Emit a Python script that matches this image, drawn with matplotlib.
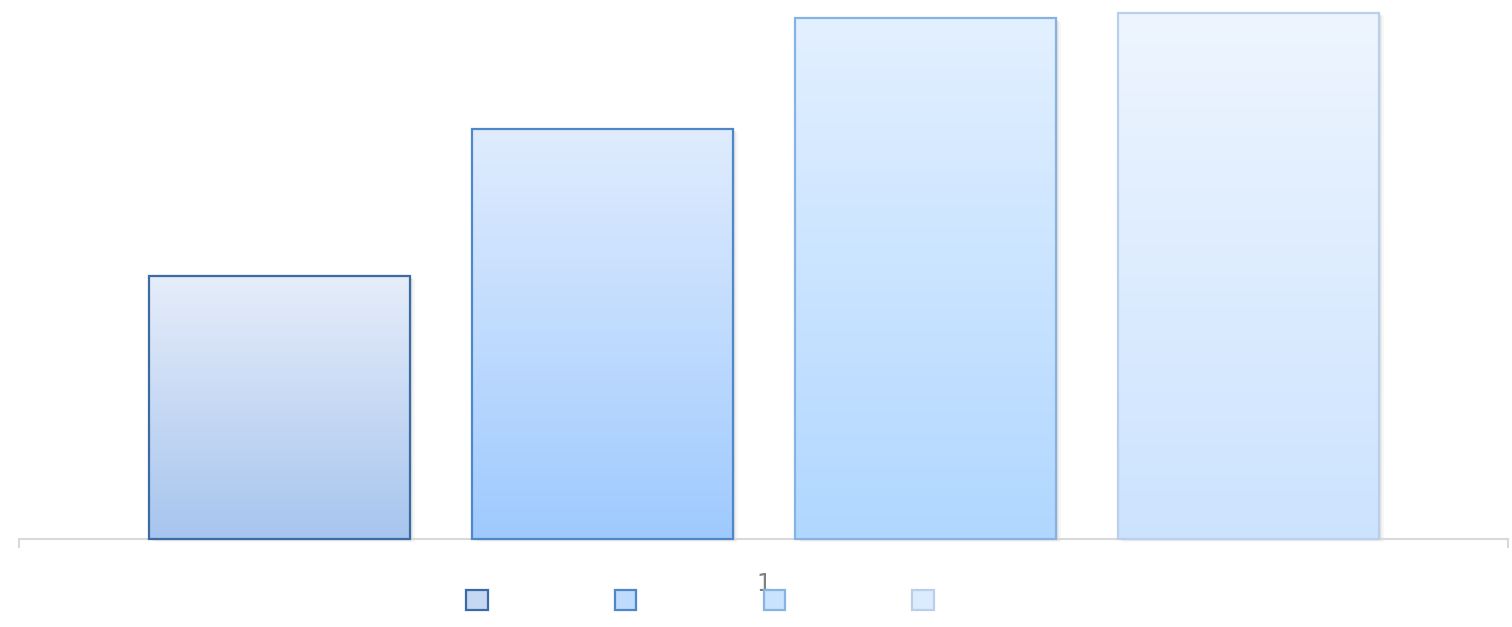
import numpy as np
import matplotlib
matplotlib.use("Agg")
import matplotlib.pyplot as plt
from matplotlib.patches import Rectangle, Patch
from matplotlib.colors import LinearSegmentedColormap
import matplotlib.transforms as mtransforms

categories = ["1"]
series_names = ["", "", "", ""]
values = [50, 78, 99, 100]

top_colors = ["#e6edfa", "#e0ecfd", "#e3f0ff", "#eef5ff"]
bottom_colors = ["#a7c5ee", "#9fcaff", "#b0d7ff", "#cce3fe"]
edge_colors = ["#3a6ba3", "#4f88c8", "#86b3e2", "#b9cfea"]

W, H, DPI = 1512, 627, 100
fig = plt.figure(figsize=(W / DPI, H / DPI), dpi=DPI)
ax_left = 19 / W
ax_right = 1508 / W
ax_bottom = (H - 539) / H
ax = fig.add_axes([ax_left, ax_bottom, ax_right - ax_left, 1 - ax_bottom])

bar_width = 261 / 1489
step = 323 / 1489
n = len(values)
offsets = (np.arange(n) - (n - 1) / 2) * step
ymax = values[-1] * 539 / 526
ax.set_xlim(-0.5, 0.5)
ax.set_ylim(0, ymax)

for i, v in enumerate(values):
    x0 = 0 + offsets[i] - bar_width / 2
    # soft shadow
    for k, a in [(5, 0.06), (3.5, 0.08), (2, 0.10)]:
        tr = mtransforms.offset_copy(ax.transData, fig=fig, x=k * 0.72, y=-k * 0.5, units="points")
        sh = Rectangle((x0, 0), bar_width, v, transform=tr, facecolor="#808080",
                       edgecolor="none", alpha=a, zorder=1, clip_on=False)
        ax.add_patch(sh)
    cmap = LinearSegmentedColormap.from_list(f"g{i}", [bottom_colors[i], top_colors[i]])
    grad = np.linspace(0, 1, 256).reshape(-1, 1)
    im = ax.imshow(grad, cmap=cmap, aspect="auto", origin="lower",
                   extent=(x0, x0 + bar_width, 0, v), zorder=2)
    rect = Rectangle((x0, 0), bar_width, v, facecolor="none", edgecolor=edge_colors[i],
                     linewidth=1.6, zorder=3, clip_on=False)
    ax.add_patch(rect)
    clip = Rectangle((x0, 0), bar_width, v, transform=ax.transData, facecolor="none", edgecolor="none")
    ax.add_patch(clip)
    im.set_clip_path(clip)

ax.set_xlim(-0.5, 0.5)
ax.set_ylim(0, ymax)

for s in ["top", "right", "left"]:
    ax.spines[s].set_visible(False)
ax.spines["bottom"].set_color("#d9d9d9")
ax.spines["bottom"].set_linewidth(1.5)
ax.set_yticks([])
ax.set_xticks([0])
ax.set_xticklabels(categories, color="#808080", fontsize=17, family="DejaVu Sans")
ax.tick_params(axis="x", which="major", length=0, pad=24)
ax.set_xticks([-0.5, 0.5], minor=True)
ax.tick_params(axis="x", which="minor", length=6.5, width=1.5, color="#d9d9d9")
ax.patch.set_alpha(0)

mid_colors = ["#c6d7f4", "#bfdbfe", "#c9e3ff", "#ddebfe"]
handles = [Patch(facecolor=mid_colors[i], edgecolor=edge_colors[i], linewidth=1.6) for i in range(n)]
fig.legend(handles, series_names, loc="center", bbox_to_anchor=(700 / W, 1 - 601 / H),
           ncol=4, frameon=False, fontsize=15.5, handlelength=1.0, handleheight=1.0,
           handletextpad=0.0, columnspacing=5.9, borderpad=0)

fig.savefig("out.png", dpi=DPI, facecolor="white")
